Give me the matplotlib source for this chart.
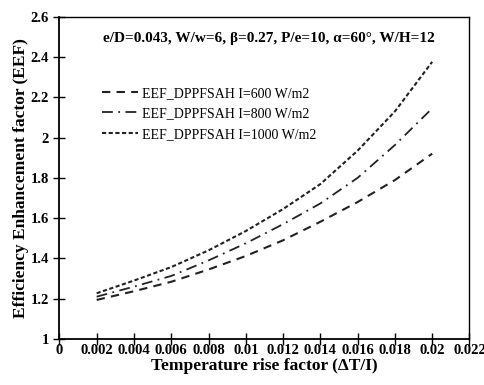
import matplotlib
matplotlib.use("Agg")
import matplotlib.pyplot as plt
from matplotlib.ticker import FuncFormatter, MultipleLocator

# Data
dT_I = [0.002, 0.004, 0.006, 0.008, 0.010, 0.012, 0.014, 0.016, 0.018, 0.020]
eef_600 = [1.194, 1.237, 1.284, 1.345, 1.412, 1.490, 1.582, 1.680, 1.789, 1.920]
eef_800 = [1.210, 1.260, 1.313, 1.390, 1.475, 1.570, 1.673, 1.800, 1.963, 2.145]
eef_1000 = [1.227, 1.290, 1.357, 1.440, 1.536, 1.645, 1.769, 1.935, 2.130, 2.376]
labels = ["EEF_DPPFSAH I=600 W/m2", "EEF_DPPFSAH I=800 W/m2", "EEF_DPPFSAH I=1000 W/m2"]
title_text = "e/D=0.043, W/w=6, β=0.27, P/e=10, α=60°, W/H=12"

plt.rcParams['font.family'] = ['Liberation Serif', 'DejaVu Serif']

fig = plt.figure(figsize=(4.84, 3.85), dpi=100)
ax = fig.add_axes([0.1227, 0.1195, 0.9700 - 0.1227, 0.9566 - 0.1195])

col = '#222222'
ax.plot(dT_I, eef_600, color=col, lw=1.5, linestyle=(0, (4, 3)), label=labels[0])
ax.plot(dT_I, eef_800, color=col, lw=1.3, linestyle=(0, (6, 3, 1, 3)), label=labels[1])
ax.plot(dT_I, eef_1000, color=col, lw=1.5, linestyle=(0, (2, 1.2)), label=labels[2])

ax.set_xlim(0, 0.022)
ax.set_ylim(1, 2.6)
ax.xaxis.set_major_locator(MultipleLocator(0.002))
ax.yaxis.set_major_locator(MultipleLocator(0.2))
fmt = FuncFormatter(lambda v, p: ('%.3f' % v).rstrip('0').rstrip('.') if abs(v) > 1e-9 else '0')
ax.xaxis.set_major_formatter(fmt)
ax.yaxis.set_major_formatter(FuncFormatter(lambda v, p: ('%.1f' % v).rstrip('0').rstrip('.')))

ax.tick_params(direction='inout', length=9, width=1, labelsize=10.5, colors='black')
ax.tick_params(axis='x', pad=-1)
ax.tick_params(axis='y', pad=3)
for lab in ax.get_xticklabels() + ax.get_yticklabels():
    lab.set_fontweight('bold')
for s in ax.spines.values():
    s.set_linewidth(1.0)
ax.spines['left'].set_linewidth(1.3)
ax.spines['bottom'].set_linewidth(1.3)

ax.set_xlabel("Temperature rise factor (ΔT/I)", fontsize=12.5, fontweight='bold', labelpad=1)
ax.set_ylabel("Efficiency Enhancement factor (EEF)", fontsize=12.5, fontweight='bold', labelpad=1)

ax.text(0.51, 0.931, title_text, transform=ax.transAxes, ha='center', va='center',
        fontsize=11, fontweight='bold')

leg = ax.legend(loc='upper left', bbox_to_anchor=(0.09, 0.80), frameon=False, fontsize=10,
                handlelength=2.6, handletextpad=0.3, labelspacing=0.55, borderaxespad=0)

fig.savefig("out.png", dpi=100)
